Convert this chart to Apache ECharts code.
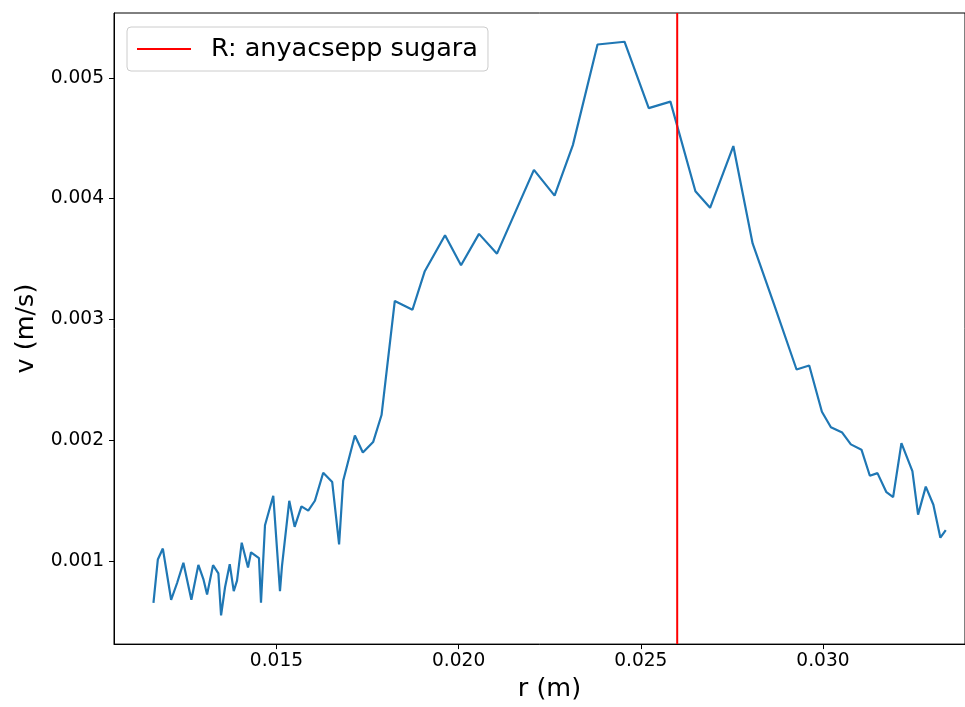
<!DOCTYPE html>
<html>
<head>
<meta charset="utf-8">
<script src="https://cdn.jsdelivr.net/npm/echarts@6/dist/echarts.min.js"></script>
<style>
  html, body { margin: 0; padding: 0; background: #fff; }
  #chart { width: 965px; height: 707px; }
</style>
</head>
<body>
<div id="chart"></div>
<script>
// radius values (m)
var rValues = [
  0.011623, 0.011743, 0.011881, 0.012108, 0.012272, 0.012445, 0.012664, 0.012856,
  0.012993, 0.013095, 0.013259, 0.013405, 0.013479, 0.013525, 0.013588, 0.013717,
  0.013827, 0.013917, 0.014046, 0.014219, 0.014301, 0.014520, 0.014575, 0.014685,
  0.014912, 0.015096, 0.015151, 0.015351, 0.015499, 0.015685, 0.015872, 0.016055,
  0.016283, 0.016530, 0.016719, 0.016831, 0.017152, 0.017371, 0.017653, 0.017884,
  0.018248, 0.018733, 0.019071, 0.019627, 0.020066, 0.020559, 0.021053, 0.022067,
  0.022634, 0.023136, 0.023813, 0.024553, 0.025219, 0.025814, 0.026500, 0.026902,
  0.027541, 0.028070, 0.028673, 0.029276, 0.029624, 0.029972, 0.030219, 0.030529,
  0.030767, 0.031058, 0.031288, 0.031497, 0.031743, 0.031927, 0.032155, 0.032456,
  0.032612, 0.032823, 0.033032, 0.033224, 0.033372
];
// velocity values (m/s)
var vValues = [
  0.000653, 0.001011, 0.001102, 0.000678, 0.000817, 0.000984, 0.000678, 0.000967,
  0.000850, 0.000721, 0.000965, 0.000897, 0.000549, 0.000557, 0.000782, 0.000973,
  0.000749, 0.000836, 0.001151, 0.000946, 0.001071, 0.001022, 0.000653, 0.001295,
  0.001539, 0.000749, 0.000957, 0.001498, 0.001282, 0.001451, 0.001416, 0.001498,
  0.001730, 0.001653, 0.001137, 0.001664, 0.002039, 0.001897, 0.001984, 0.002208,
  0.003153, 0.003080, 0.003399, 0.003697, 0.003448, 0.003708, 0.003544, 0.004238,
  0.004025, 0.004443, 0.005276, 0.005299, 0.004749, 0.004803, 0.004061, 0.003924,
  0.004435, 0.003629, 0.003112, 0.002585, 0.002618, 0.002235, 0.002107, 0.002063,
  0.001965, 0.001921, 0.001705, 0.001727, 0.001569, 0.001528, 0.001975, 0.001743,
  0.001383, 0.001615, 0.001465, 0.001192, 0.001254
];
var redLineR = 0.026;
var redLineName = 'R: anyacsepp sugara';
var xTicks = [0.015, 0.020, 0.025, 0.030];
var yTicks = [0.001, 0.002, 0.003, 0.004, 0.005];
// axis limits
var xMin = 0.01054, xMax = 0.0339;
var yMin = 0.000311, yMax = 0.005537;

var font = 'DejaVu Sans';

var lineData = [];
for (var i = 0; i < rValues.length; i++) {
  lineData.push([rValues[i], vValues[i]]);
}
// vertical line spanning the whole y range
var redData = [[redLineR, yMin], [redLineR, yMax]];

var myChart = echarts.init(document.getElementById('chart'));
var option = {
  backgroundColor: '#fff',
  animation: false,
  grid: {
    left: 114,
    top: 13,
    right: -1,
    bottom: 56,
    show: true,
    borderColor: '#000',
    borderWidth: 1
  },
  legend: {
    left: 127,
    top: 27,
    padding: [9, 10, 9, 10],
    backgroundColor: 'rgba(255,255,255,0.8)',
    borderColor: '#cccccc',
    borderWidth: 1,
    borderRadius: 4,
    itemWidth: 54,
    itemHeight: 2,
    data: [{ name: redLineName, icon: 'rect' }],
    textStyle: {
      fontFamily: font,
      fontSize: 25.5,
      color: '#000',
      padding: [0, 0, 0, 15]
    }
  },
  xAxis: {
    type: 'value',
    min: xMin,
    max: xMax,
    name: 'r (m)',
    nameLocation: 'middle',
    nameGap: 30,
    nameTextStyle: { fontFamily: font, fontSize: 25.5, color: '#000', padding: [0, 0, 0, 20] },
    axisLine: { show: true, lineStyle: { color: '#000', width: 1 } },
    axisTick: { show: true, inside: false, length: 5, customValues: xTicks, lineStyle: { color: '#000' } },
    axisLabel: {
      customValues: xTicks,
      margin: 8,
      fontFamily: font,
      fontSize: 18.6,
      color: '#000',
      formatter: function (v) { return v.toFixed(3); }
    },
    splitLine: { show: false }
  },
  yAxis: {
    type: 'value',
    min: yMin,
    max: yMax,
    name: 'v (m/s)',
    nameLocation: 'middle',
    nameGap: 72,
    nameRotate: 90,
    nameTextStyle: { fontFamily: font, fontSize: 25.5, color: '#000' },
    axisLine: { show: true, lineStyle: { color: '#000', width: 1 } },
    axisTick: { show: true, inside: false, length: 5, customValues: yTicks, lineStyle: { color: '#000' } },
    axisLabel: {
      customValues: yTicks,
      margin: 10,
      fontFamily: font,
      fontSize: 18.6,
      color: '#000',
      formatter: function (v) { return v.toFixed(3); }
    },
    splitLine: { show: false }
  },
  series: [
    {
      name: 'v',
      type: 'line',
      data: lineData,
      symbol: 'none',
      lineStyle: { color: '#1f77b4', width: 2.2 },
      itemStyle: { color: '#1f77b4' },
      z: 2
    },
    {
      name: redLineName,
      type: 'line',
      data: redData,
      symbol: 'none',
      lineStyle: { color: 'red', width: 2 },
      itemStyle: { color: 'red' },
      z: 3
    }
  ]
};
myChart.setOption(option);
</script>
</body>
</html>
